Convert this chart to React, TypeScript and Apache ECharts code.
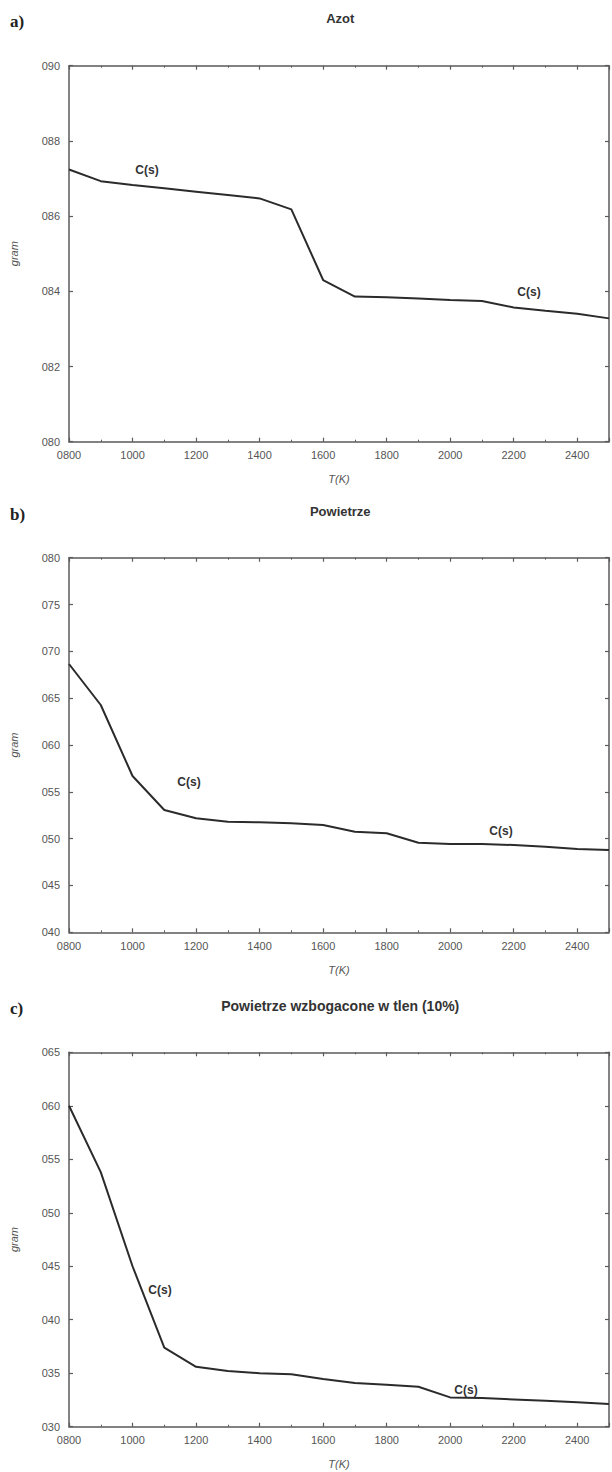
import React, { useEffect, useRef } from "react";
import * as echarts from "echarts";

// Temperature T(K)
const temperatures = [800, 900, 1000, 1100, 1200, 1300, 1400, 1500, 1600, 1700, 1800, 1900, 2000, 2100, 2200, 2300, 2400, 2500];

// C(s) mass [gram] for each atmosphere
const azot = [87.24, 86.93, 86.83, 86.74, 86.65, 86.56, 86.47, 86.18, 84.3, 83.86, 83.84, 83.81, 83.77, 83.74, 83.57, 83.48, 83.4, 83.28];
const powietrze = [68.65, 64.27, 56.69, 53.06, 52.17, 51.81, 51.75, 51.64, 51.45, 50.74, 50.57, 49.57, 49.43, 49.43, 49.32, 49.14, 48.9, 48.79];
const powietrzeTlen = [60.0, 53.8, 45.0, 37.4, 35.6, 35.2, 35.0, 34.9, 34.46, 34.08, 33.93, 33.74, 32.74, 32.68, 32.55, 32.43, 32.28, 32.12];

const panelTitles = ["Azot", "Powietrze", "Powietrze wzbogacone w tlen (10%)"];
const panelLetters = ["a)", "b)", "c)"];
const yMins = [80, 40, 30];
const yMaxs = [90, 80, 65];
const yIntervals = [2, 5, 5];
const xMin = 800;
const xMax = 2500;
const xInterval = 200;
const seriesLabel = "C(s)";

const panelData = [azot, powietrze, powietrzeTlen];

export default function App() {
  const ref = useRef<HTMLDivElement>(null);

  useEffect(() => {
    document.body.style.margin = "0";
    if (!ref.current) return;
    const chart = echarts.init(ref.current, null, { renderer: "svg" });

    const gridLeft = 68.5;
    const gridWidth = 543.5;
    const tops = [65.7, 557.7, 1052.3];
    const heights = [376, 374.6, 374.4];
    const axisColor = "#5a5a5a";
    const labelColor = "#555";
    const font = "Liberation Sans, Arial, sans-serif";

    const grids: any[] = [];
    const xAxes: any[] = [];
    const yAxes: any[] = [];
    const series: any[] = [];
    const graphics: any[] = [];

    for (let i = 0; i < 3; i++) {
      grids.push({ left: gridLeft, top: tops[i], width: gridWidth, height: heights[i], containLabel: false });
      const xBase = {
        type: "value",
        gridIndex: i,
        min: xMin,
        max: xMax,
        interval: xInterval,
        splitLine: { show: false },
        axisLine: { show: true, onZero: false, lineStyle: { color: axisColor, width: 1.5 } },
        axisTick: { show: true, inside: true, length: 4, lineStyle: { color: axisColor, width: 1.2 } },
        minorTick: { show: true, splitNumber: 2, length: 2, lineStyle: { color: axisColor, width: 1 } },
        minorSplitLine: { show: false },
      };
      xAxes.push({
        ...xBase,
        position: "bottom",
        name: "T(K)",
        nameLocation: "middle",
        nameGap: 32,
        nameTextStyle: { fontStyle: "italic", fontSize: 11, color: labelColor, fontFamily: font },
        axisLabel: {
          show: true,
          margin: 8,
          fontSize: 11,
          color: labelColor,
          fontFamily: font,
          formatter: (v: number) => (v === xMax ? "" : String(v).padStart(4, "0")),
        },
      });
      xAxes.push({ ...xBase, position: "top", axisLabel: { show: false } });

      const yBase = {
        type: "value",
        gridIndex: i,
        min: yMins[i],
        max: yMaxs[i],
        interval: yIntervals[i],
        splitLine: { show: false },
        axisLine: { show: true, onZero: false, lineStyle: { color: axisColor, width: 1.5 } },
        axisTick: { show: true, inside: true, length: 4, lineStyle: { color: axisColor, width: 1.2 } },
      };
      yAxes.push({
        ...yBase,
        position: "left",
        name: "gram",
        nameLocation: "middle",
        nameGap: 50,
        nameTextStyle: { fontStyle: "italic", fontSize: 11, color: labelColor, fontFamily: font },
        axisLabel: {
          show: true,
          margin: 9,
          fontSize: 11,
          color: labelColor,
          fontFamily: font,
          formatter: (v: number) => String(v).padStart(3, "0"),
        },
      });
      yAxes.push({ ...yBase, position: "right", axisLabel: { show: false } });

      series.push({
        type: "line",
        xAxisIndex: i * 2,
        yAxisIndex: i * 2,
        data: temperatures.map((t, k) => [t, panelData[i][k]]),
        symbol: "none",
        lineStyle: { color: "#2b2b2b", width: 2 },
      });

      graphics.push({
        type: "text",
        left: 10,
        top: [13, 506, 1000][i],
        style: { text: panelLetters[i], font: "bold 17px 'Liberation Serif', serif", fill: "#222" },
      });
      graphics.push({
        type: "text",
        x: gridLeft + gridWidth / 2,
        y: [18.5, 511, 1005.5][i],
        style: {
          text: panelTitles[i],
          font: `bold ${i === 2 ? 14 : 13}px ${font}`,
          fill: "#333",
          textAlign: "center",
          textVerticalAlign: "middle",
        },
      });
    }

    const csLabelPos = [
      [147, 170], [529, 292],
      [189, 782], [501, 831],
      [160, 1290], [466, 1390],
    ];
    csLabelPos.forEach(([x, y]) => {
      graphics.push({
        type: "text",
        x,
        y,
        style: {
          text: seriesLabel,
          font: `bold 12px ${font}`,
          fill: "#333",
          textAlign: "center",
          textVerticalAlign: "middle",
        },
      });
    });

    chart.setOption({
      animation: false,
      backgroundColor: "#fff",
      grid: grids,
      xAxis: xAxes,
      yAxis: yAxes,
      series,
      graphic: graphics,
    });

    return () => chart.dispose();
  }, []);

  return <div ref={ref} style={{ width: 612, height: 1472 }} />;
}
